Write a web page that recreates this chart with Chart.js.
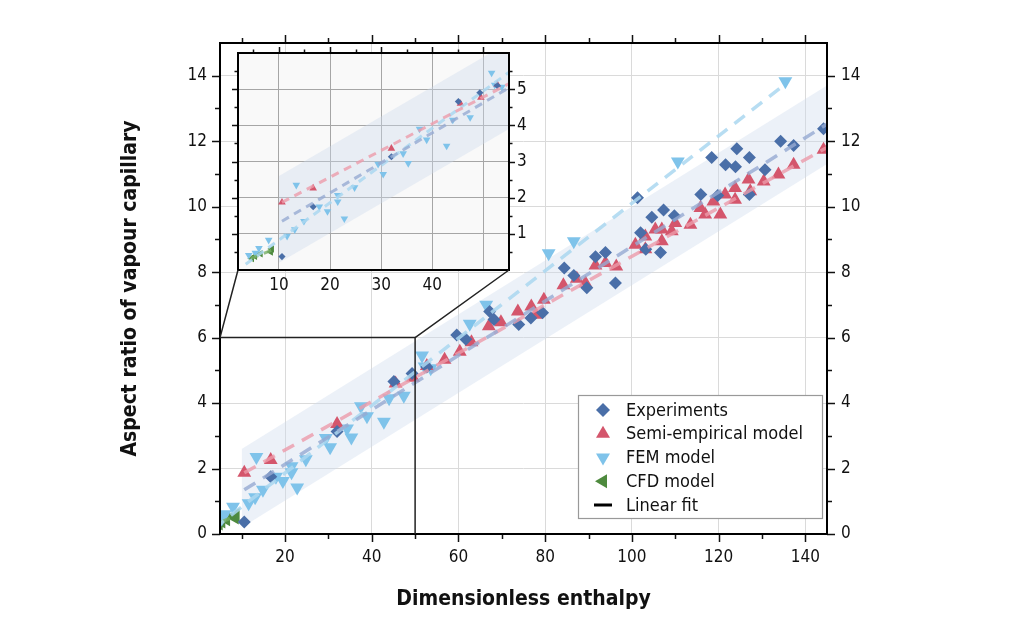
<!DOCTYPE html>
<html>
<head>
<meta charset="utf-8">
<script src="https://cdn.jsdelivr.net/npm/chart.js@4.4.1/dist/chart.umd.min.js"></script>
<style>
html, body { margin: 0; padding: 0; background: #fff; }
#wrap { position: relative; width: 1024px; height: 624px; }
canvas { position: absolute; left: 0; top: 0; }
</style>
</head>
<body>
<div id="wrap">
  <canvas id="main" width="1024" height="624"></canvas>
  <canvas id="inset" width="1024" height="624"></canvas>
</div>
<script>
// --- data: [enthalpy, aspect ratio] ---
const experiments = [[10.6,0.37],[16.7,1.75],[32,3.13],[45.1,4.66],[49.3,4.9],[52.7,5.1],[59.6,6.08],[61.7,5.95],
  [67.2,6.8],[68.2,6.55],[73.9,6.4],[76.7,6.6],[79.4,6.76],[84.4,8.13],[86.6,7.9],[89.6,7.52],[91.6,8.47],
  [93.9,8.6],[96.2,7.67],[101.3,10.27],[102,9.2],[103.2,8.7],[104.6,9.68],[106.6,8.6],[107.3,9.9],[109.8,9.72],
  [115.9,10.37],[118.4,11.5],[119.8,10.34],[121.6,11.28],[123.9,11.22],[124.2,11.77],[127.1,11.5],[127.1,10.37],
  [130.7,11.13],[134.3,12.0],[137.3,11.87],[144.2,12.38]]
const semiEmpirical = [[10.6,1.87],[16.7,2.26],[32,3.36],[45.5,4.6],[49.5,4.77],[52.7,5.13],[56.8,5.32],[60.3,5.57],
  [63,5.86],[67,6.35],[69.8,6.47],[73.7,6.8],[76.8,6.95],[77.8,6.7],[79.7,7.16],[84.2,7.6],[87.3,7.8],[89.3,7.66],
  [91.6,8.2],[93.9,8.28],[96.4,8.17],[100.8,8.84],[103.1,8.7],[103.1,9.09],[105.4,9.3],[106.9,8.94],[106.9,9.3],
  [109.2,9.25],[110,9.5],[113.5,9.45],[115.8,9.96],[116.9,9.76],[118.8,10.16],[120.4,9.76],[121.5,10.37],
  [123.8,10.57],[123.8,10.21],[126.9,10.83],[127.3,10.47],[130.4,10.77],[133.8,10.98],[137.3,11.28],[144.2,11.74]]
const femModel = [[4.1,0.41],[5.4,0.47],[6.1,0.6],[8,0.83],[11.6,0.94],[13.1,1.12],[13.4,2.35],[14.9,1.35],
  [17.9,1.75],[19.5,1.62],[21.5,2.07],[21.5,1.89],[22.8,1.42],[24.8,2.28],[29.4,2.93],[30.4,2.65],[34.3,3.22],
  [35.3,2.95],[37.5,3.9],[38.9,3.6],[42.8,3.43],[44,4.15],[47.4,4.22],[51.6,5.45],[52.2,5.12],[53.6,5.06],
  [62.6,6.42],[66.4,7.0],[80.8,8.58],[86.6,8.94],[110.6,11.38],[135.4,13.83]]
const cfdModel = [[4.7,0.32],[5.3,0.38],[6.4,0.45],[8.4,0.5],[8.6,0.58]]

// linear fits (end points) and the shaded band
const expFit = [[10.6,1.35],[145,12.52]]
const semiFit = [[10.6,1.87],[145,11.81]]
const femFit = [[3.5,0.16],[135.4,13.75]]
const cfdFit = [[4.5,0.32],[8.8,0.56]]
const bandLower = [[10,0.2],[145,11.3]]
const bandUpper = [[10,2.6],[145,13.7]]

// axes
const xTicksMain = [20,40,60,80,100,120,140]
const xMinorMain = [10,30,50,70,90,110,130]
const yTicksMain = [0,2,4,6,8,10,12,14]
const yMinorMain = [1,3,5,7,9,11,13]
const xTicksInset = [10,20,30,40,50]
const xMinorInset = [5,15,25,35,45]
const yTicksInset = [1,2,3,4,5]
const yMinorInset = [0.5,1.5,2.5,3.5,4.5,5.5]
const zoomBox = { x0: 5, x1: 50, y0: 0, y1: 6 }

const FONT = '"DejaVu Sans Condensed", "DejaVu Sans", sans-serif'
const C_EXP = '#4a6fa8', C_SEMI = '#d4566c', C_FEM = '#7fc3ea', C_CFD = '#4e8a3e'

function pts(arr) { return arr.map(p => ({ x: p[0], y: p[1] })) }

function markers(label, arr, color, style, rot, r) {
  return { type: 'scatter', label: label, data: pts(arr), order: 5,
    pointStyle: style, rotation: rot, radius: r, pointBackgroundColor: color,
    pointBorderColor: color, pointBorderWidth: 0, showLine: false }
}
function fitLine(arr, color, w, dash) {
  return { type: 'line', data: pts(arr), order: 1, borderColor: color, borderWidth: w,
    borderDash: dash, pointRadius: 0, fill: false, showLine: true }
}
function bandSets() {
  return [
    { type: 'line', data: pts(bandLower), order: 10, borderWidth: 0, pointRadius: 0, fill: false, showLine: true },
    { type: 'line', data: pts(bandUpper), order: 10, borderWidth: 0, pointRadius: 0, showLine: true,
      fill: '-1', backgroundColor: 'rgba(205,217,236,0.38)' }
  ]
}
function allSets(big) {
  const s = big ? 1 : 0.55
  const dash = big ? [13, 9] : [8, 6]
  const w = big ? 3.5 : 3
  return bandSets().concat([
    markers('Experiments', experiments, C_EXP, 'rectRot', 0, 6.5 * s),
    markers('Semi-empirical model', semiEmpirical, C_SEMI, 'triangle', 0, 8 * s),
    markers('FEM model', femModel, C_FEM, 'triangle', 180, 8 * s),
    markers('CFD model', cfdModel, C_CFD, 'triangle', 270, 8 * s),
    fitLine(expFit, 'rgba(150,170,210,0.8)', w, dash),
    fitLine(semiFit, 'rgba(236,155,170,0.8)', w, dash),
    fitLine(femFit, 'rgba(170,215,240,0.85)', w, dash),
    fitLine(cfdFit, 'rgba(120,175,100,0.8)', w, dash)
  ])
}

// tick marks on the chosen sides, outward
function drawTicks(chart, xs, xm, ys, ym, major, minor, sides) {
  const ctx = chart.ctx, a = chart.chartArea
  const sx = chart.scales.x, sy = chart.scales.y
  ctx.save()
  ctx.strokeStyle = '#111'
  ctx.lineWidth = 1.5
  function tx(list, len) {
    list.forEach(v => {
      const p = Math.round(sx.getPixelForValue(v)) + 0.5
      ctx.beginPath()
      if (sides.top) { ctx.moveTo(p, a.top); ctx.lineTo(p, a.top - len) }
      if (sides.bottom) { ctx.moveTo(p, a.bottom); ctx.lineTo(p, a.bottom + len) }
      ctx.stroke()
    })
  }
  function ty(list, len) {
    list.forEach(v => {
      const p = Math.round(sy.getPixelForValue(v)) + 0.5
      ctx.beginPath()
      if (sides.left) { ctx.moveTo(a.left, p); ctx.lineTo(a.left - len, p) }
      if (sides.right) { ctx.moveTo(a.right, p); ctx.lineTo(a.right + len, p) }
      ctx.stroke()
    })
  }
  tx(xs, major); tx(xm, minor); ty(ys, major); ty(ym, minor)
  ctx.lineWidth = 2
  ctx.strokeStyle = '#000'
  ctx.strokeRect(a.left, a.top, a.right - a.left, a.bottom - a.top)
  ctx.restore()
}

function legendMarker(ctx, kind, x, y, color) {
  ctx.fillStyle = color
  ctx.beginPath()
  if (kind === 'diamond') {
    ctx.moveTo(x, y - 7); ctx.lineTo(x + 7, y); ctx.lineTo(x, y + 7); ctx.lineTo(x - 7, y)
  } else if (kind === 'up') {
    ctx.moveTo(x, y - 8); ctx.lineTo(x + 7, y + 4); ctx.lineTo(x - 7, y + 4)
  } else if (kind === 'down') {
    ctx.moveTo(x, y + 8); ctx.lineTo(x + 7, y - 4); ctx.lineTo(x - 7, y - 4)
  } else if (kind === 'left') {
    ctx.moveTo(x - 8, y); ctx.lineTo(x + 4, y - 7); ctx.lineTo(x + 4, y + 7)
  }
  ctx.closePath()
  ctx.fill()
}

const mainDecor = {
  id: 'mainDecor',
  afterDraw(chart) {
    const ctx = chart.ctx, a = chart.chartArea
    const sx = chart.scales.x, sy = chart.scales.y
    drawTicks(chart, xTicksMain, xMinorMain, yTicksMain, yMinorMain, 8, 5,
      { top: true, bottom: true, left: true, right: true })
    // zoom rectangle
    ctx.save()
    ctx.strokeStyle = '#222'
    ctx.lineWidth = 1.5
    ctx.beginPath()
    ctx.moveTo(sx.getPixelForValue(zoomBox.x0), sy.getPixelForValue(zoomBox.y1))
    ctx.lineTo(sx.getPixelForValue(zoomBox.x1), sy.getPixelForValue(zoomBox.y1))
    ctx.lineTo(sx.getPixelForValue(zoomBox.x1), sy.getPixelForValue(zoomBox.y0))
    ctx.stroke()
    // legend
    const w = 244, h = 123
    const lx = a.right - 5 - w, ly = a.bottom - 16 - h
    ctx.fillStyle = '#fff'
    ctx.fillRect(lx, ly, w, h)
    ctx.strokeStyle = '#999'
    ctx.lineWidth = 1.2
    ctx.strokeRect(lx + 0.5, ly + 0.5, w, h)
    const rows = [['diamond', C_EXP, 'Experiments'], ['up', C_SEMI, 'Semi-empirical model'],
      ['down', C_FEM, 'FEM model'], ['left', C_CFD, 'CFD model'], ['line', '#000', 'Linear fit']]
    ctx.font = '18px ' + FONT
    ctx.textBaseline = 'middle'
    rows.forEach((r, i) => {
      const yy = ly + 15 + i * 23.75
      const mx = lx + 25
      if (r[0] === 'line') {
        ctx.strokeStyle = '#000'; ctx.lineWidth = 3
        ctx.beginPath(); ctx.moveTo(mx - 9, yy); ctx.lineTo(mx + 9, yy); ctx.stroke()
      } else {
        legendMarker(ctx, r[0], mx, yy, r[1])
      }
      ctx.fillStyle = '#111'
      ctx.fillText(r[2], lx + 48, yy + 1)
    })
    ctx.restore()
  }
}

const mainChart = new Chart(document.getElementById('main').getContext('2d'), {
  type: 'scatter',
  data: { datasets: allSets(true) },
  options: {
    responsive: false,
    animation: false,
    events: [],
    layout: { padding: { top: 43, left: 0, right: 0, bottom: 0 } },
    plugins: { legend: { display: false }, tooltip: { enabled: false } },
    scales: {
      x: {
        type: 'linear', position: 'bottom', min: 5, max: 145,
        afterBuildTicks: s => { s.ticks = xTicksMain.map(v => ({ value: v })) },
        afterFit: s => { s.height = 90 },
        grid: { color: '#dadada', lineWidth: 1, drawTicks: false },
        border: { display: false },
        ticks: { padding: 13, color: '#111', font: { family: FONT, size: 17 }, maxRotation: 0 },
        title: { display: true, text: 'Dimensionless enthalpy', color: '#111',
          font: { family: FONT, size: 21, weight: 'bold' }, padding: { bottom: 12, top: 0 } }
      },
      y: {
        type: 'linear', position: 'left', min: 0, max: 15,
        afterBuildTicks: s => { s.ticks = yTicksMain.map(v => ({ value: v })) },
        afterFit: s => { s.width = 220 },
        grid: { color: '#dadada', lineWidth: 1, drawTicks: false },
        border: { display: false },
        ticks: { padding: 13, color: '#111', font: { family: FONT, size: 17 } },
        title: { display: true, text: 'Aspect ratio of vapour capillary', color: '#111',
          font: { family: FONT, size: 21, weight: 'bold' }, padding: { top: 118, bottom: 0 } }
      },
      y2: {
        type: 'linear', position: 'right', min: 0, max: 15,
        afterBuildTicks: s => { s.ticks = yTicksMain.map(v => ({ value: v })) },
        afterFit: s => { s.width = 197 },
        grid: { display: false, drawTicks: false },
        border: { display: false },
        ticks: { padding: 14, color: '#111', font: { family: FONT, size: 17 } }
      }
    }
  },
  plugins: [mainDecor]
})

const insetDecor = {
  id: 'insetDecor',
  beforeDraw(chart) {
    const ctx = chart.ctx, a = chart.chartArea
    ctx.save()
    ctx.fillStyle = '#f9f9f9'
    ctx.fillRect(a.left, a.top, a.right - a.left, a.bottom - a.top)
    ctx.restore()
  },
  afterDraw(chart) {
    const ctx = chart.ctx, a = chart.chartArea
    drawTicks(chart, xTicksInset, xMinorInset, yTicksInset, yMinorInset, 6, 3.5,
      { top: true, bottom: false, left: true, right: true })
    // connector lines from the zoom box to the inset corners
    const mx = mainChart.scales.x, my = mainChart.scales.y
    ctx.save()
    ctx.strokeStyle = '#222'
    ctx.lineWidth = 1.5
    ctx.beginPath()
    ctx.moveTo(mx.getPixelForValue(zoomBox.x0), my.getPixelForValue(zoomBox.y1))
    ctx.lineTo(a.left, a.bottom)
    ctx.moveTo(mx.getPixelForValue(zoomBox.x1), my.getPixelForValue(zoomBox.y1))
    ctx.lineTo(a.right, a.bottom)
    ctx.stroke()
    ctx.restore()
  }
}

new Chart(document.getElementById('inset').getContext('2d'), {
  type: 'scatter',
  data: { datasets: allSets(false) },
  options: {
    responsive: false,
    animation: false,
    events: [],
    layout: { padding: { top: 53, left: 238, right: 0, bottom: 0 } },
    plugins: { legend: { display: false }, tooltip: { enabled: false } },
    scales: {
      x: {
        type: 'linear', position: 'bottom', min: 2, max: 55,
        afterBuildTicks: s => { s.ticks = xTicksInset.map(v => ({ value: v })) },
        afterFit: s => { s.height = 354 },
        grid: { color: '#a6a6a6', lineWidth: 1, drawTicks: false },
        border: { display: false },
        ticks: { padding: 5, color: '#111', font: { family: FONT, size: 17 }, maxRotation: 0,
          callback: v => (v === 50 ? '' : v) }
      },
      y: {
        type: 'linear', position: 'right', min: 0, max: 6,
        afterBuildTicks: s => { s.ticks = yTicksInset.map(v => ({ value: v })) },
        afterFit: s => { s.width = 515 },
        grid: { color: '#a6a6a6', lineWidth: 1, drawTicks: false },
        border: { display: false },
        ticks: { padding: 8, color: '#111', font: { family: FONT, size: 17 } }
      }
    }
  },
  plugins: [insetDecor]
})
</script>
</body>
</html>
